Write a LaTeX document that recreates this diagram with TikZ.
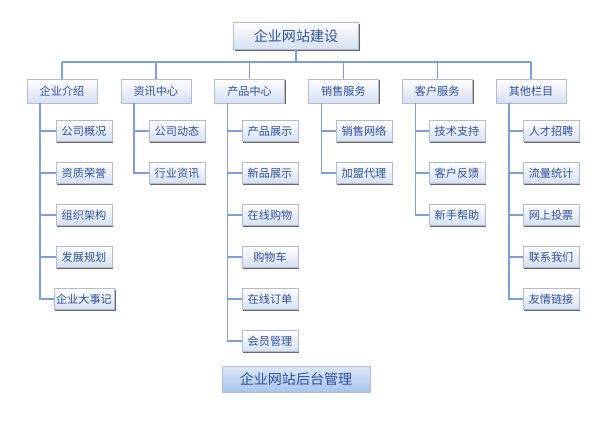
\documentclass[tikz,border=0pt]{standalone}
\usepackage{fontspec}
\newfontfamily\cjk{Noto Sans CJK SC}
\usepackage{tikz}
\usetikzlibrary{positioning}
\usetikzlibrary{shadows}

\definecolor{navtext}{HTML}{2F4F9F}
\definecolor{navline}{HTML}{7E9DDD}
\definecolor{navedge}{HTML}{B4BCCC}
\definecolor{navfill}{HTML}{D3E0F3}
\definecolor{basetop}{HTML}{DCE8F8}
\definecolor{basefill}{HTML}{A8C4EC}

\begin{document}
\begin{tikzpicture}[x=0.03cm, y=-0.03cm,
    every node/.style={font=\cjk\fontsize{9.5}{11}\selectfont, text=navtext, inner sep=0pt, inner xsep=2pt},
    box/.style={rectangle, draw=navedge, line width=0.4pt, top color=white, bottom color=navfill,
        drop shadow={shadow xshift=1.2pt, shadow yshift=-1.2pt, fill=black!60, opacity=1}},
    catbox/.style={box, minimum width=2.1cm, minimum height=0.72cm},
    itembox/.style={box, minimum width=1.68cm, minimum height=0.63cm},
    topbox/.style={box, minimum width=3.75cm, minimum height=0.81cm, font=\cjk\fontsize{12}{14}\selectfont},
    basebox/.style={box, top color=basetop, bottom color=basefill, minimum width=4.44cm, minimum height=0.78cm,
        font=\cjk\fontsize{12}{14}\selectfont},
    link/.style={draw=navline, line width=1.2pt}]

\useasboundingbox (0,0) rectangle (600,420);

% Root
\node[topbox] (top) at (296,36) {企业网站建设};

% Bus line
\coordinate (busL) at (62,62);
\coordinate (busR) at (531,62);
\draw[link] (busL) -- (busR);
\draw[link] (top.south) -- (top.south |- busL);

% Categories
\foreach \name [count=\i] in {企业介绍,资讯中心,产品中心,销售服务,客户服务,其他栏目} {
    \node[catbox] (cat\i) at ({62+93.8*(\i-1)},91) {\name};
    \draw[link] (cat\i.north) -- (cat\i.north |- busL);
}

% Items of column 1
\foreach \name [count=\j] in {公司概况,资质荣誉,组织架构,发展规划,企业大事记} {
    \node[itembox] (cat1_\j) at (84,{131+42*(\j-1)}) {\name};
    \draw[link] ([xshift=-0.66cm]cat1.south) |- (cat1_\j.west);
}

% Items of column 2
\foreach \name [count=\j] in {公司动态,行业资讯} {
    \node[itembox] (cat2_\j) at (177,{131+42*(\j-1)}) {\name};
    \draw[link] ([xshift=-0.66cm]cat2.south) |- (cat2_\j.west);
}

% Items of column 3
\foreach \name [count=\j] in {产品展示,新品展示,在线购物,购物车,在线订单,会员管理} {
    \node[itembox] (cat3_\j) at (270,{131+42*(\j-1)}) {\name};
    \draw[link] ([xshift=-0.66cm]cat3.south) |- (cat3_\j.west);
}

% Items of column 4
\foreach \name [count=\j] in {销售网络,加盟代理} {
    \node[itembox] (cat4_\j) at (364,{131+42*(\j-1)}) {\name};
    \draw[link] ([xshift=-0.66cm]cat4.south) |- (cat4_\j.west);
}

% Items of column 5
\foreach \name [count=\j] in {技术支持,客户反馈,新手帮助} {
    \node[itembox] (cat5_\j) at (457,{131+42*(\j-1)}) {\name};
    \draw[link] ([xshift=-0.66cm]cat5.south) |- (cat5_\j.west);
}

% Items of column 6
\foreach \name [count=\j] in {人才招聘,流量统计,网上投票,联系我们,友情链接} {
    \node[itembox] (cat6_\j) at (551,{131+42*(\j-1)}) {\name};
    \draw[link] ([xshift=-0.66cm]cat6.south) |- (cat6_\j.west);
}

% Back end
\node[basebox] (admin) at (296,379) {企业网站后台管理};

\end{tikzpicture}
\end{document}
